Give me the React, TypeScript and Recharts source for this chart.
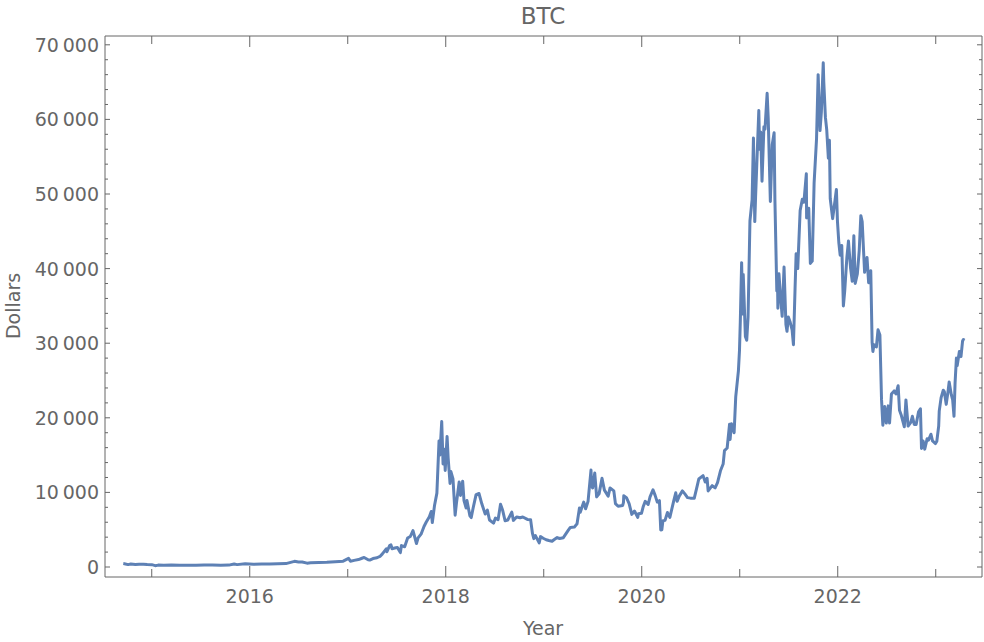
import { Line, LineChart, XAxis, YAxis } from "recharts";

// BTC close price, [date, dollars]
const btc2014: [string, number][] = [
  ["2014-09-17", 457], ["2014-09-25", 410], ["2014-10-05", 320], ["2014-10-15", 395],
  ["2014-11-01", 325], ["2014-11-15", 375], ["2014-12-01", 380], ["2014-12-15", 330],
];
const btc2015: [string, number][] = [
  ["2015-01-01", 315], ["2015-01-14", 178], ["2015-01-25", 255], ["2015-02-15", 235],
  ["2015-03-15", 280], ["2015-04-15", 220], ["2015-05-15", 237], ["2015-06-15", 237],
  ["2015-07-15", 285], ["2015-08-15", 262], ["2015-09-15", 230], ["2015-10-15", 255],
  ["2015-11-04", 400], ["2015-11-15", 320], ["2015-12-15", 445],
];
const btc2016: [string, number][] = [
  ["2016-01-15", 375], ["2016-02-15", 400], ["2016-03-15", 415], ["2016-04-15", 430],
  ["2016-05-15", 455], ["2016-06-16", 760], ["2016-07-01", 675], ["2016-07-15", 665],
  ["2016-08-02", 515], ["2016-08-15", 570], ["2016-09-15", 610], ["2016-10-15", 640],
  ["2016-11-15", 710], ["2016-12-15", 780],
];
const btc2017: [string, number][] = [
  ["2017-01-04", 1150], ["2017-01-11", 780], ["2017-01-25", 890], ["2017-02-10", 1000],
  ["2017-02-23", 1170], ["2017-03-03", 1280], ["2017-03-18", 970], ["2017-03-24", 930],
  ["2017-04-05", 1130], ["2017-04-20", 1240], ["2017-05-01", 1420], ["2017-05-10", 1760],
  ["2017-05-25", 2450], ["2017-05-27", 2050], ["2017-06-06", 2860], ["2017-06-11", 2960],
  ["2017-06-15", 2450], ["2017-06-25", 2540], ["2017-07-05", 2620], ["2017-07-16", 1930],
  ["2017-07-20", 2870], ["2017-08-01", 2720], ["2017-08-12", 3880], ["2017-08-22", 4090],
  ["2017-09-01", 4890], ["2017-09-14", 3150], ["2017-09-20", 3900], ["2017-10-01", 4400],
  ["2017-10-12", 5430], ["2017-10-20", 6000], ["2017-11-01", 6740], ["2017-11-08", 7450],
  ["2017-11-12", 5950], ["2017-11-20", 8200], ["2017-11-29", 9900], ["2017-12-07", 16900],
  ["2017-12-10", 15000], ["2017-12-17", 19500], ["2017-12-22", 13800], ["2017-12-27", 15800],
  ["2017-12-30", 12950],
];
const btc2018: [string, number][] = [
  ["2018-01-06", 17500], ["2018-01-10", 14600], ["2018-01-17", 11200], ["2018-01-20", 12800],
  ["2018-01-28", 11800], ["2018-02-05", 6950], ["2018-02-10", 8600], ["2018-02-20", 11400],
  ["2018-02-25", 9600], ["2018-03-05", 11500], ["2018-03-10", 8900], ["2018-03-18", 7900],
  ["2018-03-21", 8900], ["2018-04-01", 6850], ["2018-04-06", 6630], ["2018-04-13", 7900],
  ["2018-04-24", 9700], ["2018-05-05", 9850], ["2018-05-15", 8500], ["2018-05-28", 7100],
  ["2018-06-05", 7620], ["2018-06-13", 6300], ["2018-06-28", 5880], ["2018-07-05", 6550],
  ["2018-07-15", 6350], ["2018-07-24", 8400], ["2018-08-01", 7600], ["2018-08-10", 6200],
  ["2018-08-20", 6300], ["2018-09-04", 7350], ["2018-09-10", 6250], ["2018-09-22", 6700],
  ["2018-10-05", 6600], ["2018-10-15", 6700], ["2018-11-01", 6380], ["2018-11-13", 6350],
  ["2018-11-20", 4500], ["2018-11-25", 3800], ["2018-12-01", 4200], ["2018-12-15", 3230],
  ["2018-12-20", 4070], ["2018-12-30", 3850],
];
const btc2019: [string, number][] = [
  ["2019-01-10", 3650], ["2019-01-20", 3550], ["2019-02-01", 3450], ["2019-02-08", 3650],
  ["2019-02-20", 3950], ["2019-03-01", 3820], ["2019-03-15", 3930], ["2019-04-02", 4900],
  ["2019-04-10", 5300], ["2019-04-25", 5350], ["2019-05-05", 5800], ["2019-05-14", 7900],
  ["2019-05-17", 7350], ["2019-05-30", 8700], ["2019-06-06", 7800], ["2019-06-15", 8800],
  ["2019-06-26", 13000], ["2019-06-28", 11000], ["2019-07-02", 10600], ["2019-07-10", 12600],
  ["2019-07-17", 9400], ["2019-07-26", 9800], ["2019-08-06", 11900], ["2019-08-15", 10300],
  ["2019-08-29", 9500], ["2019-09-05", 10600], ["2019-09-19", 10200], ["2019-09-25", 8500],
  ["2019-10-05", 8150], ["2019-10-22", 8250], ["2019-10-25", 8650], ["2019-10-26", 9550],
  ["2019-11-05", 9300], ["2019-11-15", 8500], ["2019-11-25", 7050], ["2019-12-05", 7500],
  ["2019-12-17", 6650], ["2019-12-20", 7150], ["2019-12-31", 7200],
];
const btc2020: [string, number][] = [
  ["2020-01-07", 8150], ["2020-01-14", 8800], ["2020-01-25", 8400], ["2020-02-01", 9400],
  ["2020-02-12", 10350], ["2020-02-20", 9600], ["2020-02-28", 8700], ["2020-03-07", 8900],
  ["2020-03-12", 4970], ["2020-03-16", 5000], ["2020-03-20", 6200], ["2020-03-28", 6250],
  ["2020-04-06", 7300], ["2020-04-15", 6650], ["2020-04-29", 8800], ["2020-05-07", 9950],
  ["2020-05-12", 8800], ["2020-05-20", 9500], ["2020-06-01", 10200], ["2020-06-10", 9800],
  ["2020-06-20", 9300], ["2020-07-01", 9230], ["2020-07-15", 9200], ["2020-07-27", 11000],
  ["2020-08-01", 11800], ["2020-08-17", 12250], ["2020-08-25", 11400], ["2020-09-01", 11900],
  ["2020-09-05", 10200], ["2020-09-20", 10900], ["2020-10-01", 10600], ["2020-10-10", 11300],
  ["2020-10-21", 12900], ["2020-10-31", 13800], ["2020-11-05", 15600], ["2020-11-15", 15950],
  ["2020-11-24", 19150], ["2020-11-26", 17100], ["2020-12-01", 19200], ["2020-12-11", 18000],
  ["2020-12-17", 22800], ["2020-12-27", 26300], ["2020-12-31", 29000],
];
const btc2021: [string, number][] = [
  ["2021-01-03", 32800], ["2021-01-08", 40800], ["2021-01-12", 33900], ["2021-01-14", 39200],
  ["2021-01-22", 30900], ["2021-01-27", 30400], ["2021-02-01", 33500], ["2021-02-08", 46400],
  ["2021-02-16", 49200], ["2021-02-21", 57500], ["2021-02-26", 46300], ["2021-03-01", 49600],
  ["2021-03-13", 61200], ["2021-03-16", 56000], ["2021-03-20", 58300], ["2021-03-25", 51700],
  ["2021-04-01", 59000], ["2021-04-05", 58700], ["2021-04-13", 63500], ["2021-04-17", 60200],
  ["2021-04-25", 49000], ["2021-05-02", 56600], ["2021-05-09", 58200], ["2021-05-12", 49200],
  ["2021-05-19", 37000], ["2021-05-22", 37500], ["2021-05-23", 34700], ["2021-05-27", 39300],
  ["2021-06-01", 36700], ["2021-06-08", 33600], ["2021-06-15", 40200], ["2021-06-22", 32500],
  ["2021-06-26", 31600], ["2021-07-01", 33500], ["2021-07-08", 32800], ["2021-07-15", 31800],
  ["2021-07-20", 29800], ["2021-07-26", 37300], ["2021-07-30", 42000], ["2021-08-05", 40000],
  ["2021-08-14", 47800], ["2021-08-22", 49300], ["2021-08-28", 48900], ["2021-09-06", 52700],
  ["2021-09-07", 46800], ["2021-09-15", 48100], ["2021-09-21", 40700], ["2021-09-28", 41000],
  ["2021-10-05", 51500], ["2021-10-14", 57400], ["2021-10-20", 66000], ["2021-10-27", 58500],
  ["2021-11-01", 61000], ["2021-11-08", 67600], ["2021-11-10", 65000], ["2021-11-16", 60300],
  ["2021-11-21", 58600], ["2021-11-27", 54800], ["2021-12-01", 57200], ["2021-12-04", 49400],
  ["2021-12-13", 46700], ["2021-12-21", 48900], ["2021-12-27", 50600], ["2021-12-31", 46300],
];
const btc2022: [string, number][] = [
  ["2022-01-05", 43500], ["2022-01-10", 41800], ["2022-01-16", 43100], ["2022-01-22", 35000],
  ["2022-01-27", 37000], ["2022-02-04", 41500], ["2022-02-10", 43700], ["2022-02-13", 42200],
  ["2022-02-18", 40000], ["2022-02-24", 38300], ["2022-03-02", 44400], ["2022-03-07", 38000],
  ["2022-03-15", 39300], ["2022-03-22", 42400], ["2022-03-28", 47100], ["2022-04-02", 46300],
  ["2022-04-11", 39500], ["2022-04-20", 41500], ["2022-04-26", 38100], ["2022-05-04", 39700],
  ["2022-05-09", 30100], ["2022-05-12", 28900], ["2022-05-16", 29800], ["2022-05-25", 29500],
  ["2022-05-31", 31800], ["2022-06-07", 31100], ["2022-06-13", 22500], ["2022-06-18", 19000],
  ["2022-06-25", 21500], ["2022-07-01", 19300], ["2022-07-08", 21600], ["2022-07-13", 19300],
  ["2022-07-20", 23200], ["2022-07-30", 23600], ["2022-08-06", 23200], ["2022-08-14", 24300],
  ["2022-08-19", 21000], ["2022-08-26", 20300], ["2022-09-06", 18800], ["2022-09-12", 22400],
  ["2022-09-20", 18900], ["2022-09-30", 19400], ["2022-10-06", 20200], ["2022-10-13", 19100],
  ["2022-10-20", 19100], ["2022-10-29", 20800], ["2022-11-05", 21200], ["2022-11-09", 15900],
  ["2022-11-15", 16900], ["2022-11-21", 15800], ["2022-11-30", 17200], ["2022-12-05", 17000],
  ["2022-12-14", 17800], ["2022-12-20", 16900], ["2022-12-31", 16550],
];
const btc2023: [string, number][] = [
  ["2023-01-05", 16850], ["2023-01-12", 18900], ["2023-01-14", 20900], ["2023-01-21", 22700],
  ["2023-01-29", 23700], ["2023-02-02", 23500], ["2023-02-09", 21800], ["2023-02-16", 23600],
  ["2023-02-20", 24800], ["2023-02-28", 23100], ["2023-03-05", 22400], ["2023-03-10", 20200],
  ["2023-03-14", 24700], ["2023-03-19", 28000], ["2023-03-22", 27000], ["2023-03-30", 28900],
  ["2023-04-05", 28200], ["2023-04-11", 30300], ["2023-04-14", 30500], ["2023-04-18", 30400],
];

const yearTicks = [2015, 2016, 2017, 2018, 2019, 2020, 2021, 2022, 2023];
const labeledYears = [2016, 2018, 2020, 2022];
const dollarTicks = [
  0, 2000, 4000, 6000, 8000, 10000, 12000, 14000, 16000, 18000, 20000, 22000, 24000,
  26000, 28000, 30000, 32000, 34000, 36000, 38000, 40000, 42000, 44000, 46000, 48000,
  50000, 52000, 54000, 56000, 58000, 60000, 62000, 64000, 66000, 68000, 70000,
];
const labeledDollars = [0, 10000, 20000, 30000, 40000, 50000, 60000, 70000];

const GRAY = "#666666";
const FONT = "DejaVu Sans";

function toYear(d: string) {
  const [y, m, day] = d.split("-").map(Number);
  const start = Date.UTC(y, 0, 1);
  const len = Date.UTC(y + 1, 0, 1) - start;
  return y + (Date.UTC(y, m - 1, day) - start) / len;
}

const data = [...btc2014, ...btc2015, ...btc2016, ...btc2017, ...btc2018, ...btc2019, ...btc2020, ...btc2021, ...btc2022, ...btc2023].map(
  ([d, p]) => ({ t: toYear(d), price: p })
);

const fmt = (v: number) => String(v).replace(/\B(?=(\d{3})+(?!\d))/g, "\u2009");

function BottomTick({ x, y, payload }: any) {
  const major = labeledYears.includes(payload.value);
  return (
    <g>
      <line x1={x} x2={x} y1={y} y2={y - (major ? 11 : 8)} stroke={GRAY} />
      {major && (
        <text x={x} y={y + 26} textAnchor="middle" fill={GRAY} fontSize={19} fontFamily={FONT}>
          {payload.value}
        </text>
      )}
    </g>
  );
}

function TopTick({ x, y, payload }: any) {
  const major = labeledYears.includes(payload.value);
  return <line x1={x} x2={x} y1={y} y2={y + (major ? 11 : 8)} stroke={GRAY} />;
}

function LeftTick({ x, y, payload }: any) {
  const major = labeledDollars.includes(payload.value);
  return (
    <g>
      <line x1={x} x2={x + (major ? 5 : 3)} y1={y} y2={y} stroke={GRAY} />
      {major && (
        <text x={x - 6} y={y + 7} textAnchor="end" fill={GRAY} fontSize={19} fontFamily={FONT}>
          {fmt(payload.value)}
        </text>
      )}
    </g>
  );
}

function RightTick({ x, y, payload }: any) {
  const major = labeledDollars.includes(payload.value);
  return <line x1={x} x2={x - (major ? 5 : 3)} y1={y} y2={y} stroke={GRAY} />;
}

export default function App() {
  return (
    <div style={{ position: "absolute", left: 0, top: 0, width: 984, height: 642, background: "#fff" }}>
      <LineChart width={984} height={642} data={data} margin={{ top: 35, right: 1, bottom: 35, left: 45 }}>
        <XAxis
          xAxisId="bottom"
          dataKey="t"
          type="number"
          scale="linear"
          domain={[2014.523, 2023.472]}
          allowDataOverflow
          ticks={yearTicks}
          interval={0}
          height={30}
          tickSize={0}
          tickMargin={0}
          tickLine={false}
          axisLine={{ stroke: GRAY }}
          tick={(p: any) => <BottomTick {...p} />}
        />
        <XAxis
          xAxisId="top"
          orientation="top"
          dataKey="t"
          type="number"
          scale="linear"
          domain={[2014.523, 2023.472]}
          allowDataOverflow
          ticks={yearTicks}
          interval={0}
          height={1}
          tickSize={0}
          tickMargin={0}
          tickLine={false}
          axisLine={{ stroke: GRAY }}
          tick={(p: any) => <TopTick {...p} />}
        />
        <YAxis
          yAxisId="left"
          type="number"
          domain={[-1340, 71180]}
          allowDataOverflow
          ticks={dollarTicks}
          interval={0}
          width={60}
          tickSize={0}
          tickMargin={0}
          tickLine={false}
          axisLine={{ stroke: GRAY }}
          tick={(p: any) => <LeftTick {...p} />}
        />
        <YAxis
          yAxisId="right"
          orientation="right"
          type="number"
          domain={[-1340, 71180]}
          allowDataOverflow
          ticks={dollarTicks}
          interval={0}
          width={1}
          tickSize={0}
          tickMargin={0}
          tickLine={false}
          axisLine={{ stroke: GRAY }}
          tick={(p: any) => <RightTick {...p} />}
        />
        <Line
          xAxisId="bottom"
          yAxisId="left"
          type="linear"
          dataKey="price"
          stroke="#5E81B5"
          strokeWidth={3}
          strokeLinejoin="round"
          dot={false}
          isAnimationActive={false}
        />
      </LineChart>
      <svg width={984} height={642} style={{ position: "absolute", left: 0, top: 0, pointerEvents: "none" }}>
        <text x={543} y={24} textAnchor="middle" fill={GRAY} fontSize={23} fontFamily={FONT}>
          BTC
        </text>
        <text x={543} y={635} textAnchor="middle" fill={GRAY} fontSize={19} fontFamily={FONT}>
          Year
        </text>
        <text x={20} y={306} textAnchor="middle" fill={GRAY} fontSize={19} fontFamily={FONT} transform="rotate(-90 20 306)">
          Dollars
        </text>
      </svg>
    </div>
  );
}
